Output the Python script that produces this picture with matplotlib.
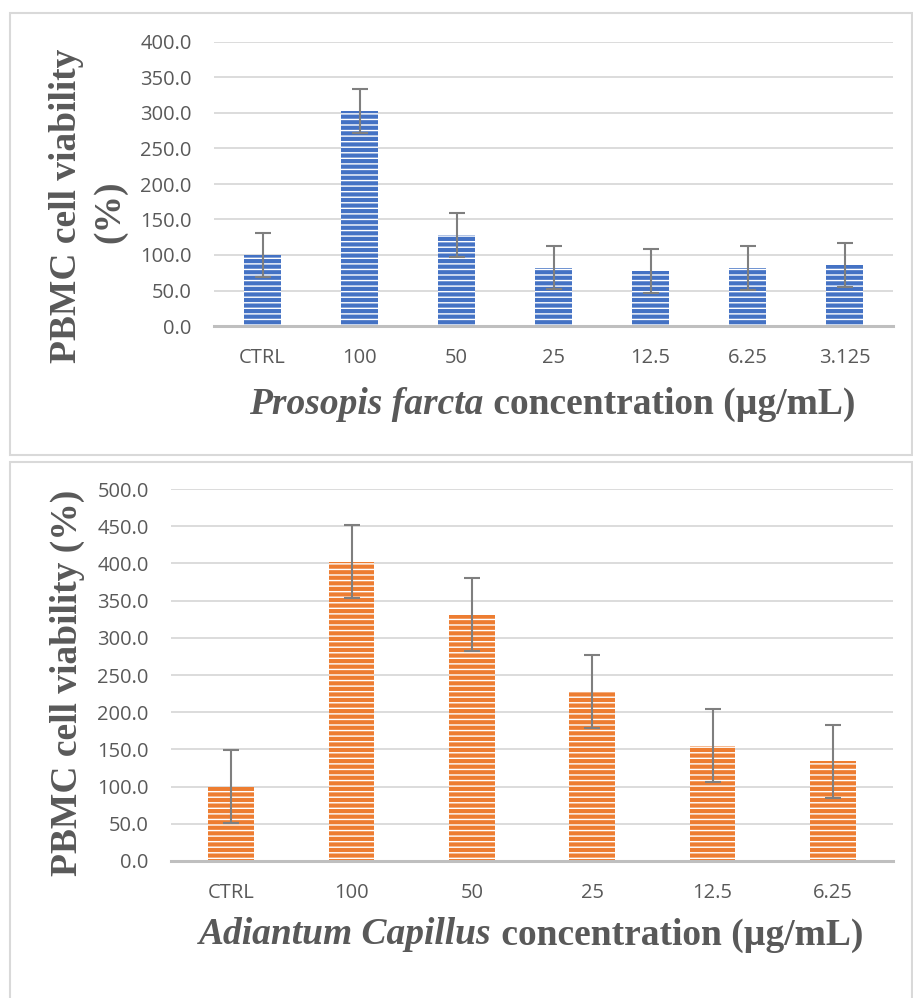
import matplotlib
matplotlib.use("Agg")
import matplotlib.pyplot as plt
from matplotlib.patches import Rectangle

# ---- data ----
top_categories = ["CTRL", "100", "50", "25", "12.5", "6.25", "3.125"]
top_values = [100, 303, 128, 82, 78, 82, 86]
top_errors = [31, 31, 31, 30, 31, 31, 31]
top_yticks = [0, 50, 100, 150, 200, 250, 300, 350, 400]

bot_categories = ["CTRL", "100", "50", "25", "12.5", "6.25"]
bot_values = [100, 402, 331, 228, 155, 134]
bot_errors = [49, 49, 49, 49, 49, 49]
bot_yticks = [0, 50, 100, 150, 200, 250, 300, 350, 400, 450, 500]

W, H = 913, 998
plt.rcParams["hatch.linewidth"] = 1.0
fig = plt.figure(figsize=(W / 100, H / 100), dpi=100)

GRAY_TXT = "#595959"
TICK_FONT = "Open Sans"
SERIF = "Liberation Serif"

# panel frames
for (x0, y0, x1, y1) in [(10, 13, 912, 455), (10, 462, 912, 1010)]:
    fig.add_artist(Rectangle((x0 / W, 1 - y1 / H), (x1 - x0) / W, (y1 - y0) / H,
                             transform=fig.transFigure, fill=False,
                             edgecolor="#d9d9d9", linewidth=1.5))


def panel(box, cats, vals, errs, yticks, color):
    x0, y0, x1, y1 = box
    ax = fig.add_axes([x0 / W, 1 - y1 / H, (x1 - x0) / W, (y1 - y0) / H])
    x = list(range(len(cats)))
    ax.bar(x, vals, width=0.38, color=color, edgecolor="white", linewidth=0,
           hatch="---", zorder=3)
    ax.errorbar(x, vals, yerr=errs, fmt="none", ecolor="#7f7f7f",
                elinewidth=1.5, capsize=6, capthick=1.5, zorder=4)
    ax.set_xlim(-0.5, len(cats) - 0.5)
    ax.set_ylim(yticks[0], yticks[-1])
    ax.set_yticks(yticks)
    ax.set_yticklabels([f"{v:.1f}" for v in yticks])
    ax.set_xticks(x)
    ax.set_xticklabels(cats)
    for lab in ax.get_xticklabels() + ax.get_yticklabels():
        lab.set_fontfamily(TICK_FONT)
        lab.set_fontsize(14.5)
        lab.set_color(GRAY_TXT)
    ax.tick_params(axis="both", length=0)
    ax.tick_params(axis="y", pad=16)
    ax.tick_params(axis="x", pad=16)
    ax.grid(axis="y", color="#d9d9d9", linewidth=1.3, zorder=0)
    for s in ["top", "right", "left"]:
        ax.spines[s].set_visible(False)
    ax.spines["bottom"].set_color("#bfbfbf")
    ax.spines["bottom"].set_linewidth(2.2)
    ax.spines["bottom"].set_zorder(5)
    return ax


ax1 = panel((214, 42, 893, 326), top_categories, top_values, top_errors,
            top_yticks, "#4472c4")
ax2 = panel((171, 489, 893, 861), bot_categories, bot_values, bot_errors,
            bot_yticks, "#ed7d31")

LBL = 27
# y labels
fig.text(67 / W, 1 - 206 / H, "PBMC cell viability", rotation=90, ha="center",
         va="center", fontfamily=SERIF, fontweight="bold", fontsize=LBL,
         color=GRAY_TXT)
fig.text(110 / W, 1 - 212 / H, "(%)", rotation=90, ha="center",
         va="center", fontfamily=SERIF, fontweight="bold", fontsize=LBL,
         color=GRAY_TXT)
fig.text(67 / W, 1 - 683 / H, "PBMC cell viability (%)", rotation=90,
         ha="center", va="center", fontfamily=SERIF, fontweight="bold",
         fontsize=LBL, color=GRAY_TXT)

# x labels (italic part + bold part)
fig.canvas.draw()
renderer = fig.canvas.get_renderer()


def xlabel(center_px, y_px, italic_part, rest):
    t1 = fig.text(0, 1 - y_px / H, italic_part, ha="left", va="center",
                  fontfamily=SERIF, fontweight="bold", fontstyle="italic",
                  fontsize=LBL, color=GRAY_TXT)
    t2 = fig.text(0, 1 - y_px / H, rest, ha="left", va="center",
                  fontfamily=SERIF, fontweight="bold", fontsize=LBL,
                  color=GRAY_TXT)
    w1 = t1.get_window_extent(renderer).width
    w2 = t2.get_window_extent(renderer).width
    start = center_px - (w1 + w2) / 2
    t1.set_x(start / W)
    t2.set_x((start + w1) / W)


xlabel(552, 404, "Prosopis farcta", " concentration (\u00b5g/mL)")
xlabel(531, 935, "Adiantum Capillus", " concentration (\u00b5g/mL)")

fig.savefig("out.png", dpi=100)
